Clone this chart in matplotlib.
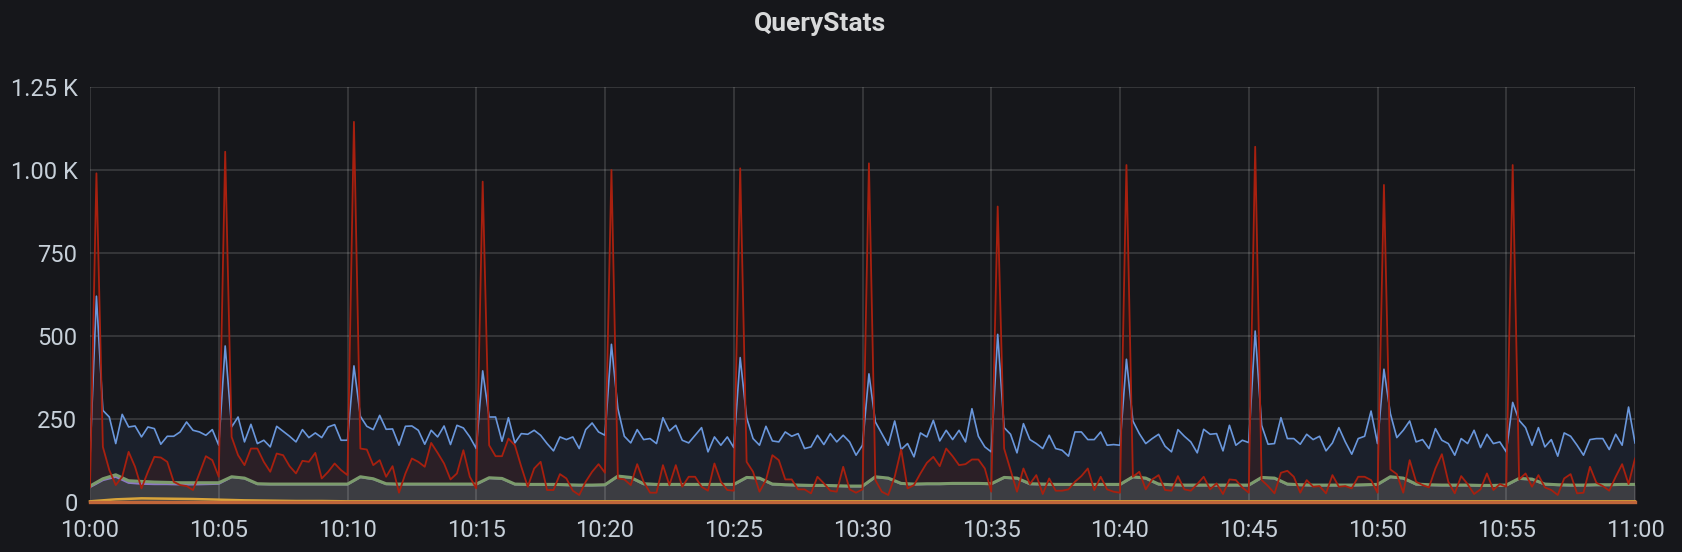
import numpy as np
import matplotlib
matplotlib.use("Agg")
import matplotlib.pyplot as plt

# ---------------- data ----------------
title = "QueryStats"
x_tick_labels = ["10:00", "10:05", "10:10", "10:15", "10:20", "10:25", "10:30",
                 "10:35", "10:40", "10:45", "10:50", "10:55", "11:00"]
y_ticks = [0, 250, 500, 750, 1000, 1250]
y_tick_labels = ["0", "250", "500", "750", "1.00 K", "1.25 K"]

# 15-second samples, 10:00 .. 11:00
blue = [135, 620, 276, 256, 176, 264, 226, 229, 196, 226, 221, 174, 198, 198, 211, 241, 216, 211, 201, 218, 171,
        470, 226, 256, 181, 234, 176, 186, 166, 228, 213, 198, 181, 218, 194, 208, 194, 226, 233, 186, 186,
        410, 258, 228, 218, 261, 219, 220, 171, 228, 229, 216, 174, 216, 196, 229, 173, 231, 223, 196, 161,
        395, 256, 256, 183, 254, 178, 206, 204, 216, 201, 176, 154, 196, 188, 196, 161, 218, 238, 211, 201,
        475, 281, 198, 178, 218, 188, 191, 176, 254, 214, 231, 186, 178, 201, 224, 151, 196, 171, 196, 164,
        435, 254, 191, 171, 228, 184, 181, 211, 198, 206, 161, 166, 201, 173, 206, 181, 201, 181, 141, 171,
        386, 241, 206, 171, 244, 158, 176, 136, 208, 196, 246, 184, 216, 188, 216, 181, 281, 198, 166, 151,
        505, 224, 204, 148, 236, 188, 176, 161, 201, 161, 156, 138, 211, 211, 188, 188, 211, 171, 173, 171,
        430, 244, 206, 176, 191, 204, 168, 151, 218, 198, 181, 148, 219, 204, 206, 154, 231, 171, 186, 179,
        515, 231, 174, 176, 254, 191, 191, 174, 204, 188, 198, 154, 178, 224, 181, 144, 191, 198, 274, 176,
        400, 266, 194, 216, 244, 181, 188, 161, 221, 186, 176, 141, 191, 176, 216, 164, 204, 176, 181, 151,
        300, 246, 224, 171, 224, 166, 188, 138, 208, 198, 171, 141, 188, 191, 191, 158, 204, 171, 286, 178]

red = [45, 990, 166, 96, 51, 76, 151, 106, 41, 91, 136, 134, 121, 61, 51, 48, 36, 86, 138, 126, 76,
       1055, 196, 141, 111, 161, 161, 121, 91, 146, 141, 108, 86, 124, 121, 148, 71, 91, 116, 96, 81,
       1145, 161, 158, 111, 126, 76, 108, 28, 86, 131, 121, 106, 178, 148, 116, 68, 86, 156, 76, 41,
       965, 171, 138, 138, 191, 171, 106, 46, 101, 121, 36, 36, 84, 71, 34, 21, 61, 91, 114, 88,
       1000, 71, 68, 51, 114, 61, 28, 28, 111, 51, 111, 46, 76, 76, 46, 34, 116, 61, 36, 34,
       1005, 121, 91, 31, 66, 141, 126, 68, 68, 38, 38, 26, 76, 56, 34, 31, 106, 38, 28, 38,
       1020, 66, 31, 21, 76, 158, 41, 51, 86, 118, 136, 108, 161, 138, 111, 114, 128, 128, 101, 31,
       890, 161, 96, 31, 101, 54, 81, 24, 71, 34, 34, 38, 61, 78, 101, 36, 76, 38, 31, 28,
       1015, 76, 91, 38, 68, 81, 36, 34, 78, 38, 34, 54, 76, 38, 56, 24, 68, 66, 44, 28,
       1070, 66, 48, 26, 88, 94, 76, 28, 66, 46, 48, 26, 81, 46, 48, 41, 76, 76, 66, 28,
       955, 98, 84, 28, 126, 61, 51, 44, 101, 144, 61, 26, 78, 54, 24, 38, 86, 36, 54, 46,
       1015, 68, 86, 46, 81, 44, 36, 21, 71, 84, 26, 28, 106, 58, 48, 34, 76, 114, 54, 131]

# 30-second samples
green = [48, 70, 82, 64, 62, 60, 59, 58, 58, 58, 58,
         76, 72, 55, 54, 54, 54, 54, 54, 54, 54,
         76, 70, 55, 54, 54, 54, 54, 54, 54, 54,
         73, 71, 54, 53, 53, 53, 52, 51, 51, 52,
         78, 74, 55, 53, 53, 53, 53, 53, 53, 53,
         74, 72, 54, 52, 51, 50, 50, 49, 48, 48,
         76, 72, 56, 54, 55, 55, 56, 56, 56, 55,
         74, 72, 55, 54, 53, 53, 53, 53, 53, 53,
         76, 72, 54, 52, 51, 51, 51, 51, 51, 51,
         74, 72, 54, 52, 51, 51, 51, 51, 52, 53,
         76, 72, 54, 52, 51, 51, 51, 50, 50, 51,
         71, 69, 54, 52, 51, 51, 52, 52, 53, 53]

purple = [45, 66, 76, 58, 55, 54, 54, 53, 53, 54, 55,
          75, 71, 54, 53, 53, 53, 53, 53, 53, 53,
          75, 69, 54, 53, 53, 53, 53, 53, 53, 53,
          72, 70, 53, 52, 52, 52, 51, 50, 50, 51,
          77, 73, 54, 52, 52, 52, 52, 52, 52, 52,
          73, 71, 53, 51, 50, 49, 49, 48, 47, 47,
          75, 71, 55, 53, 54, 54, 55, 55, 55, 54,
          73, 71, 54, 53, 52, 52, 52, 52, 52, 52,
          75, 71, 53, 51, 50, 50, 50, 50, 50, 50,
          73, 71, 53, 51, 50, 50, 50, 50, 51, 52,
          75, 71, 53, 51, 50, 50, 50, 49, 49, 50,
          70, 68, 53, 51, 50, 50, 51, 51, 52, 52]

# 1-minute samples
yellow = [2, 8, 11, 10, 9, 7, 5, 4, 3, 3, 2, 2, 2, 2, 2, 2, 2, 2, 2, 2,
          2, 2, 2, 2, 2, 2, 2, 2, 2, 2, 2, 2, 2, 2, 2, 2, 2, 2, 2, 2,
          2, 2, 2, 2, 2, 2, 2, 2, 2, 2, 2, 2, 2, 2, 2, 2, 2, 2, 2, 2, 2]
orange = [1, 1, 1, 1, 1, 1, 1, 1, 1, 1, 1, 1, 1, 1, 1, 1, 1, 1, 1, 1,
          1, 1, 1, 1, 1, 1, 1, 1, 1, 1, 1, 1, 1, 1, 1, 1, 1, 1, 1, 1,
          1, 1, 1, 1, 1, 1, 1, 1, 1, 1, 1, 1, 1, 1, 1, 1, 1, 1, 1, 1, 1]

# ---------------- style ----------------
BG = "#16171b"
TXT = "#c7d0d9"
C_BLUE = "#6a97dc"
C_RED = "#a8200f"
C_GREEN = "#7c9b6c"
C_PURPLE = "#8d79c4"
C_YELLOW = "#d9a43a"
C_ORANGE = "#c0663a"

plt.rcParams["font.family"] = ["Roboto", "DejaVu Sans"]

fig = plt.figure(figsize=(16.82, 5.52), dpi=100, facecolor=BG)
W, H = 1682, 552
left, right, bottom, top = 90, 1635, 502, 87
ax = fig.add_axes([left / W, 1 - bottom / H, (right - left) / W, (bottom - top) / H])
ax.set_facecolor(BG)

t15 = np.linspace(0, 60, len(blue))
t30 = np.linspace(0, 60, len(green))
t60 = np.linspace(0, 60, len(yellow))

# fills
ax.fill_between(t15, 0, blue, color="#5794f2", alpha=0.08, lw=0, zorder=1)
ax.fill_between(t15, 0, red, color="#bf1b00", alpha=0.1, lw=0, zorder=1.2)
ax.fill_between(t30, 0, green, color="#3c3d42", lw=0, zorder=1.5)
ax.fill_between(t60, 0, yellow, color="#eab839", alpha=0.1, lw=0, zorder=1.6)

# grid
for xv in range(0, 61, 5):
    ax.axvline(xv, color="#ffffff", alpha=0.17, lw=1.1, zorder=2)
for yv in y_ticks:
    ax.axhline(yv, color="#ffffff", alpha=0.17, lw=1.1, zorder=2)

# lines
ax.plot(t30, purple, color=C_PURPLE, lw=1.6, zorder=3)
ax.plot(t30, green, color=C_GREEN, lw=2.2, zorder=3.1)
ax.plot(t60, yellow, color=C_YELLOW, lw=1.8, zorder=3.2, clip_on=False)
ax.plot(t60, orange, color=C_ORANGE, lw=2.4, zorder=3.3, clip_on=False)
ax.plot(t15, blue, color=C_BLUE, lw=1.2, zorder=4)
ax.plot(t15, red, color=C_RED, lw=1.3, zorder=5)

ax.set_xlim(0, 60)
ax.set_ylim(0, 1250)
ax.set_xticks(range(0, 61, 5))
ax.set_xticklabels(x_tick_labels)
ax.set_yticks(y_ticks)
ax.set_yticklabels(y_tick_labels)
ax.tick_params(axis="both", length=0, colors=TXT, labelsize=17)
ax.tick_params(axis="x", pad=12)
ax.tick_params(axis="y", pad=9)
for s in ax.spines.values():
    s.set_visible(False)

fig.text(820 / W, 1 - 24 / H, title, ha="center", va="center", fontsize=19,
         fontweight="bold", color="#d8d9da")

fig.savefig("out.png", dpi=100, facecolor=BG)
